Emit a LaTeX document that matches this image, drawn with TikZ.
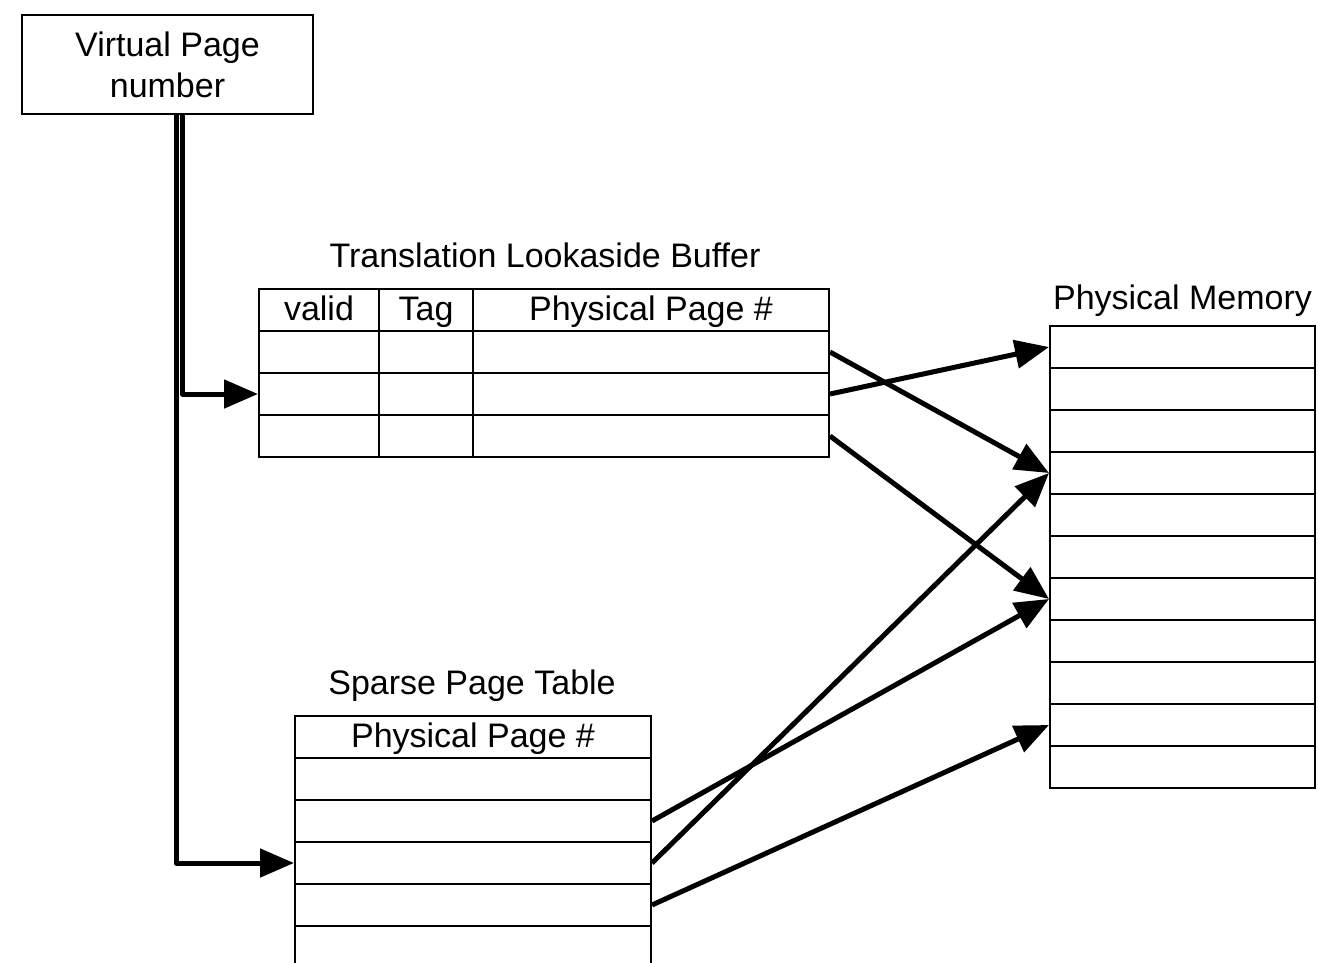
\documentclass[tikz,border=0pt]{standalone}
\usepackage{fontspec}
\setmainfont{Liberation Sans}
\usetikzlibrary{arrows.meta}
\begin{document}
\begin{tikzpicture}[x=1pt,y=-1pt,
  every node/.style={font=\fontsize{34}{41}\selectfont},
  cell/.style={draw, line width=2pt, inner sep=0pt, minimum height=42pt,
               text height=24pt, text depth=3pt},
  conn/.style={line width=5pt, line join=round,
               -{Triangle[length=34pt,width=28pt]}},
  lbl/.style={inner sep=0pt, anchor=base}]
\useasboundingbox (0,0) rectangle (1318,962);

% virtual page number
\node[draw, line width=2pt, minimum width=291pt, minimum height=99pt,
      align=center, inner sep=0pt] (vpn) at (167.5,64.5) {Virtual Page\\number};

% translation lookaside buffer
\node[lbl] (tlbl) at (545,267) {Translation Lookaside Buffer};
\node[cell, minimum width=120pt] (tv0) at (319,310) {valid};
\node[cell, minimum width=94pt]  (tt0) at (426,310) {Tag};
\node[cell, minimum width=356pt] (tp0) at (651,310) {Physical Page \#};
\foreach \r in {1,2,3} {
  \node[cell, minimum width=120pt] (tv\r) at (319,{310+42*\r}) {};
  \node[cell, minimum width=94pt]  (tt\r) at (426,{310+42*\r}) {};
  \node[cell, minimum width=356pt] (tp\r) at (651,{310+42*\r}) {};
}

% physical memory
\node[lbl] (pml) at (1182.5,309) {Physical Memory};
\foreach \r in {1,...,11} {
  \node[cell, minimum width=265pt] (m\r) at (1182.5,{305+42*\r}) {};
}

% sparse page table, open at the bottom
\node[lbl] (spl) at (472,694) {Sparse Page Table};
\node[cell, minimum width=356pt] (s0) at (473,737) {Physical Page \#};
\foreach \r in {1,...,4} {
  \node[cell, minimum width=356pt] (s\r) at (473,{737+42*\r}) {};
}
\draw[line width=2pt] ([shift={(1pt,1pt)}]s4.south west) -- ++(0,38);
\draw[line width=2pt] ([shift={(-1pt,1pt)}]s4.south east) -- ++(0,38);

% lookups from the virtual page number
\draw[conn] ([xshift=15pt]vpn.south) |- (tv2.west);
\draw[conn] ([xshift=8.5pt]vpn.south) |- (s3.west);

% translations into physical memory
\draw[conn] (tp1.east) -- (m4.west);
\draw[conn] (tp2.east) -- (m1.west);
\draw[conn] (tp3.east) -- (m7.west);
\draw[conn] (s2.east) -- (m7.west);
\draw[conn] (s3.east) -- (m4.west);
\draw[conn] (s4.east) -- (m10.west);
\end{tikzpicture}
\end{document}
